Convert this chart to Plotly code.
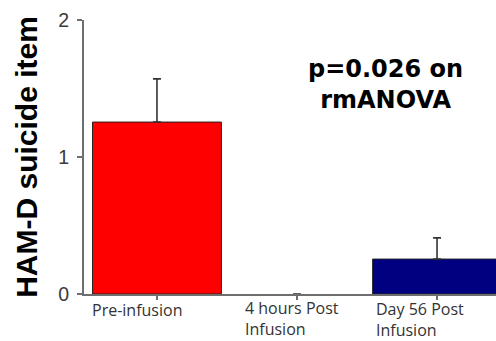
import plotly.graph_objects as go

categories = ["Pre-infusion", "4 hours Post<br>Infusion", "Day 56 Post<br>Infusion"]
values = [1.255, 0.0, 0.255]
err_up = [0.315, 0.0, 0.155]
colors = ["#FF0000", "#FFFFFF", "#000080"]
outline_widths = [1, 0, 1]
label_offsets = [-0.47, -0.38, -0.44]
label_shifts = [-4, -2, -3]
y_ticks = [0, 1, 2]
stat_text = "p=0.026 on<br>rmANOVA"

x_idx = list(range(len(categories)))

fig = go.Figure()
fig.add_trace(go.Bar(
    x=x_idx, y=values, width=0.92,
    marker=dict(color=colors, line=dict(color="#222222", width=outline_widths)),
    error_y=dict(type="data", array=err_up, arrayminus=[0]*len(values),
                 symmetric=False, color="#333333", thickness=1.6, width=4,
                 visible=True),
    showlegend=False,
))

for i, (lab, off, sh) in enumerate(zip(categories, label_offsets, label_shifts)):
    fig.add_annotation(x=i + off, y=0, xref="x", yref="y", text=lab,
                       showarrow=False, xanchor="left", yanchor="top",
                       align="left", yshift=sh, borderpad=0,
                       font=dict(family="Open Sans", size=16, color="#333333"))

fig.add_annotation(x=0.733, y=0.763, xref="paper", yref="paper", text="<b>" + stat_text + "</b>",
                   showarrow=False, xanchor="center", yanchor="middle", align="center",
                   font=dict(family="DejaVu Sans", size=24, color="#000000"))

fig.update_layout(
    width=496, height=341,
    margin=dict(l=84, r=0, t=20, b=47),
    plot_bgcolor="white", paper_bgcolor="white",
    xaxis=dict(range=[-0.521, 2.421], tickvals=x_idx, ticktext=["", "", ""],
               showline=True, linecolor="#6e6e6e", linewidth=2,
               ticks="outside", ticklen=4, tickcolor="#6e6e6e", tickwidth=2,
               showgrid=False, zeroline=False, automargin=False),
    yaxis=dict(range=[0, 2], tickvals=y_ticks, ticks="outside", ticklen=5,
               tickcolor="#6e6e6e", tickwidth=2, ticklabelstandoff=4,
               showline=True, linecolor="#6e6e6e", linewidth=2,
               showgrid=False, zeroline=False, automargin=False,
               tickfont=dict(family="Liberation Sans", size=19.5, color="#3a3a3a"),
               title=dict(text="<b>HAM-D suicide item</b>",
                          font=dict(family="Liberation Sans", size=30, color="#000000"),
                          standoff=12)),
)

fig.write_html("out.html", config={"displayModeBar": False},
               post_script="document.body.style.margin='0';document.body.style.overflow='hidden';")
